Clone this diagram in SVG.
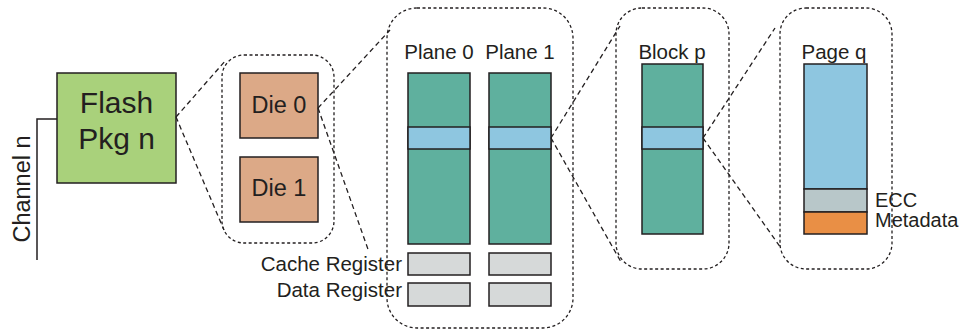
<svg xmlns="http://www.w3.org/2000/svg" width="964" height="331" viewBox="0 0 964 331">
  <style>
    text { font-family: "Liberation Sans", Arial, sans-serif; fill: #231f20; }
    .box { stroke: #231f20; stroke-width: 1.5; }
    .zoom { fill: none; stroke: #231f20; stroke-width: 1.3; stroke-dasharray: 3 2.5; }
    .conn { fill: none; stroke: #231f20; stroke-width: 1.3; stroke-dasharray: 5 3.5; }
    .cell { fill: #5fb09e; }
    .row { fill: #8ec6e0; }
    .reg { fill: #d6d9d9; }
  </style>

  <!-- channel wire -->
  <g id="channel">
    <path d="M37 260 V119 H57" fill="none" stroke="#231f20" stroke-width="1.5"/>
    <text transform="translate(30 189) rotate(-90)" font-size="23.5" text-anchor="middle">Channel n</text>
  </g>

  <!-- flash package -->
  <g id="pkg">
    <rect class="box" x="57" y="73" width="119" height="110" fill="#a9d17b"/>
    <text x="116.5" y="113" font-size="30" text-anchor="middle">Flash</text>
    <text x="116.5" y="149" font-size="30" text-anchor="middle">Pkg n</text>
  </g>

  <!-- dies -->
  <g id="dies">
    <rect class="zoom" x="222" y="55" width="112" height="188" rx="22"/>
    <g id="die0">
      <rect class="box" x="240" y="73" width="78" height="65" fill="#dca987"/>
      <text x="279" y="113" font-size="23.5" text-anchor="middle">Die 0</text>
    </g>
    <g id="die1">
      <rect class="box" x="240" y="157" width="78" height="65" fill="#dca987"/>
      <text x="279" y="196" font-size="23.5" text-anchor="middle">Die 1</text>
    </g>
  </g>

  <!-- planes and registers -->
  <g id="planes">
    <rect class="zoom" x="387" y="8" width="186" height="320" rx="30"/>
    <g id="plane0">
      <text x="439" y="59" font-size="20.5" text-anchor="middle">Plane 0</text>
      <rect class="box cell" x="408" y="73" width="62" height="171"/>
      <rect class="box row" x="408" y="127" width="62" height="22"/>
      <rect class="box reg" x="408" y="253" width="62" height="22"/>
      <rect class="box reg" x="408" y="283" width="62" height="23"/>
    </g>
    <g id="plane1">
      <text x="520" y="59" font-size="20.5" text-anchor="middle">Plane 1</text>
      <rect class="box cell" x="489" y="73" width="62" height="171"/>
      <rect class="box row" x="489" y="127" width="62" height="22"/>
      <rect class="box reg" x="489" y="253" width="62" height="22"/>
      <rect class="box reg" x="489" y="283" width="62" height="23"/>
    </g>
    <text x="402" y="271" font-size="20.5" text-anchor="end">Cache Register</text>
    <text x="402" y="297" font-size="20.5" text-anchor="end">Data Register</text>
  </g>

  <!-- block -->
  <g id="block">
    <rect class="zoom" x="616" y="8" width="113" height="261" rx="26"/>
    <text x="672" y="59" font-size="20.5" text-anchor="middle">Block p</text>
    <rect class="box cell" x="642" y="64" width="61" height="170"/>
    <rect class="box row" x="642" y="127" width="61" height="22"/>
  </g>

  <!-- page -->
  <g id="page">
    <rect class="zoom" x="780" y="8" width="112" height="261" rx="26"/>
    <text x="834" y="59" font-size="20.5" text-anchor="middle">Page q</text>
    <rect class="box" x="804" y="64" width="63" height="125" fill="#8ec6e0"/>
    <rect class="box" x="804" y="189" width="63" height="23" fill="#b8c7c9"/>
    <rect class="box" x="804" y="212" width="63" height="22" fill="#e98f45"/>
    <text x="875" y="207" font-size="20">ECC</text>
    <text x="875" y="227" font-size="20">Metadata</text>
  </g>

  <!-- zoom-in connectors -->
  <g id="connectors">
    <path class="conn" d="M176 117 L226 60"/>
    <path class="conn" d="M176 117 L224 230"/>
    <path class="conn" d="M318 108 L390 30"/>
    <path class="conn" d="M318 108 L369 252"/>
    <path class="conn" d="M551 138 L620 26"/>
    <path class="conn" d="M551 138 L621 262"/>
    <path class="conn" d="M703 138 L775 28"/>
    <path class="conn" d="M703 138 L781 248"/>
  </g>
</svg>
